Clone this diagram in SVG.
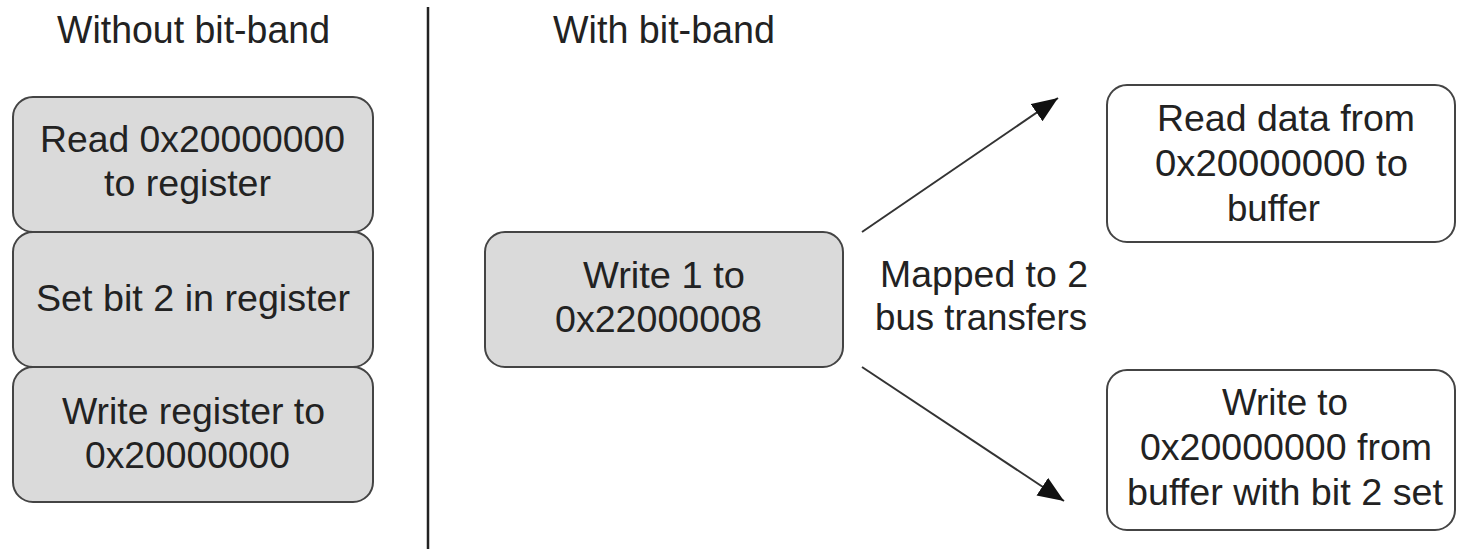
<svg xmlns="http://www.w3.org/2000/svg" width="1457" height="549" viewBox="0 0 1457 549">
  <style>
    text { font-family: "Liberation Sans", Arial, sans-serif; fill: #222; }
    .title { font-size: 38px; }
    .lbl { font-size: 36px; }
    .step { stroke: #444; stroke-width: 2; }
    .shaded { fill: #dadada; }
    .plain { fill: #ffffff; }
    .link { stroke: #333; stroke-width: 2; fill: none; marker-end: url(#head); }
  </style>
  <defs>
    <marker id="head" markerUnits="userSpaceOnUse" markerWidth="28" markerHeight="22" refX="26" refY="10.5" orient="auto">
      <path d="M0,0 L26,10.5 L0,21 Z" fill="#111"/>
    </marker>
  </defs>

  <rect width="1457" height="549" fill="#ffffff"/>

  <!-- column headings and divider -->
  <g id="headings">
    <text class="title" x="57" y="43" textLength="273" lengthAdjust="spacingAndGlyphs">Without bit-band</text>
    <text class="title" x="553" y="43" textLength="222" lengthAdjust="spacingAndGlyphs">With bit-band</text>
    <line x1="428" y1="7" x2="428" y2="549" stroke="#222" stroke-width="2.5"/>
  </g>

  <!-- conventional read-modify-write sequence -->
  <g id="read-reg">
    <rect class="step shaded" x="13" y="97" width="360" height="135" rx="20"/>
    <text class="lbl" x="40" y="152" textLength="305" lengthAdjust="spacingAndGlyphs">Read 0x20000000</text>
    <text class="lbl" x="104" y="196" textLength="167" lengthAdjust="spacingAndGlyphs">to register</text>
  </g>
  <g id="set-bit">
    <rect class="step shaded" x="13" y="232" width="360" height="135" rx="20"/>
    <text class="lbl" x="36" y="311" textLength="314" lengthAdjust="spacingAndGlyphs">Set bit 2 in register</text>
  </g>
  <g id="write-reg">
    <rect class="step shaded" x="13" y="367" width="360" height="135" rx="20"/>
    <text class="lbl" x="62" y="424" textLength="263" lengthAdjust="spacingAndGlyphs">Write register to</text>
    <text class="lbl" x="85" y="468" textLength="205" lengthAdjust="spacingAndGlyphs">0x20000000</text>
  </g>

  <!-- bit-band alias write -->
  <g id="alias-write">
    <rect class="step shaded" x="485" y="232" width="358" height="135" rx="20"/>
    <text class="lbl" x="583" y="288" textLength="162" lengthAdjust="spacingAndGlyphs">Write 1 to</text>
    <text class="lbl" x="555" y="332" textLength="207" lengthAdjust="spacingAndGlyphs">0x22000008</text>
  </g>

  <g id="mapping-note">
    <text class="lbl" x="880" y="287" textLength="208" lengthAdjust="spacingAndGlyphs">Mapped to 2</text>
    <text class="lbl" x="875" y="330" textLength="212" lengthAdjust="spacingAndGlyphs">bus transfers</text>
  </g>

  <!-- resulting bus transfers -->
  <g id="bus-read">
    <rect class="step plain" x="1107" y="85" width="348" height="157" rx="20"/>
    <text class="lbl" x="1157" y="131" textLength="258" lengthAdjust="spacingAndGlyphs">Read data from</text>
    <text class="lbl" x="1155" y="176" textLength="253" lengthAdjust="spacingAndGlyphs">0x20000000 to</text>
    <text class="lbl" x="1227" y="221" textLength="93" lengthAdjust="spacingAndGlyphs">buffer</text>
  </g>
  <g id="bus-write">
    <rect class="step plain" x="1107" y="370" width="348" height="160" rx="20"/>
    <text class="lbl" x="1222" y="415" textLength="126" lengthAdjust="spacingAndGlyphs">Write to</text>
    <text class="lbl" x="1140" y="460" textLength="292" lengthAdjust="spacingAndGlyphs">0x20000000 from</text>
    <text class="lbl" x="1127" y="505" textLength="316" lengthAdjust="spacingAndGlyphs">buffer with bit 2 set</text>
  </g>

  <g id="connectors">
    <line class="link" x1="862" y1="232" x2="1058" y2="98"/>
    <line class="link" x1="862" y1="367" x2="1064" y2="501"/>
  </g>
</svg>
